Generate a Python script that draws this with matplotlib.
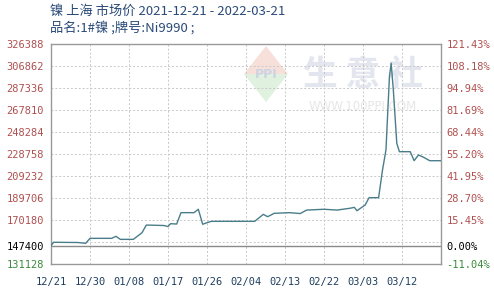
import matplotlib
matplotlib.use("Agg")
import matplotlib.pyplot as plt
from matplotlib.patches import Polygon

plt.rcParams['font.family'] = ['Noto Sans CJK SC', 'DejaVu Sans']

# ---- data (day offset from 2021-12-21, price in yuan/ton) ----
days = [0, 0.6, 6.2, 8, 9, 14, 15, 16, 19, 21, 22, 26, 27, 27.6, 29, 30, 33, 34, 35, 36, 37,
        47, 49, 50, 51.5, 55, 57.5, 59, 63, 66, 69, 70, 70.6, 72.5, 73.4, 75.6, 76.5, 77.3,
        78.1, 78.5, 79, 79.8, 80.4, 82.9, 83.8, 84.8, 86, 87.4, 90]
prices = [147400, 150400, 150200, 149500, 153900, 153900, 155700, 153000, 153000, 158900,
          165700, 165300, 164400, 166900, 166600, 176700, 176700, 179700, 166400, 167800,
          169000, 169000, 175200, 173100, 176100, 176700, 175900, 179000, 179700, 179000,
          180600, 181400, 178400, 183500, 190000, 190000, 214500, 232300, 297400, 309300,
          285600, 238200, 230800, 230800, 222800, 227900, 225800, 222800, 222800]
base_price = 147400
y_min, y_max, y_step = 131128, 326388, 19526
x_tick_days = [0, 9, 18, 27, 36, 45, 54, 63, 72, 81]
x_tick_labels = ["12/21", "12/30", "01/08", "01/17", "01/26", "02/04", "02/13", "02/22", "03/03", "03/12"]
title1 = "镍 上海 市场价 2021-12-21 - 2022-03-21"
title2 = "品名:1#镍 ;牌号:Ni9990 ;"

W, H = 494, 293
fig = plt.figure(figsize=(W / 100, H / 100), dpi=100)
L, R, T, B = 51, 441, 44, 264
ax = fig.add_axes([L / W, 1 - B / H, (R - L) / W, (B - T) / H])

ax.set_xlim(0, 90)
ax.set_ylim(y_min, y_max)

# grid
grid_vals = [y_min + k * y_step for k in range(1, 10)]
for gv in grid_vals:
    ax.axhline(gv, color='#c8c8c8', lw=0.7, ls=(0, (2, 2)), zorder=1)
for xd in x_tick_days[1:]:
    ax.axvline(xd, color='#c8c8c8', lw=0.7, ls=(0, (2, 2)), zorder=1)
ax.axhline(base_price, color='#8a8a8a', lw=1.0, zorder=2)

# watermark
ax.text(0.8, 0.86, "生 意 社", transform=ax.transAxes, ha='center', va='center',
        fontsize=25, color='#e3e6ee', zorder=0, fontweight='bold')
ax.text(0.8, 0.715, "WWW.100PPI.COM", transform=ax.transAxes, ha='center', va='center',
        fontsize=8.5, color='#e6e6e6', zorder=0, family='DejaVu Sans')
cx, cy, hw, hh = (266 - L) / (R - L), 1 - (74 - T) / (B - T), 22 / (R - L), 28 / (B - T)
ax.add_patch(Polygon([(cx - hw, cy), (cx, cy + hh), (cx + hw, cy)], closed=True,
                     transform=ax.transAxes, color='#f8e0da', zorder=0, lw=0))
ax.add_patch(Polygon([(cx - hw, cy), (cx, cy - hh), (cx + hw, cy)], closed=True,
                     transform=ax.transAxes, color='#e0f1e0', zorder=0, lw=0))
ax.text(cx, cy, "PPI", transform=ax.transAxes, ha='center', va='center', fontsize=9,
        color='#ccd4e4', zorder=0, fontweight='bold', family='DejaVu Sans')

ax.plot(days, prices, color='#4a7d8a', lw=1.0, zorder=3)

for s in ax.spines.values():
    s.set_color('#999999')
    s.set_linewidth(1.0)

# left y ticks
left_ticks = [y_min, base_price] + [y_min + k * y_step for k in range(2, 11)]
ax.set_yticks(left_ticks)
ax.set_yticklabels([f"{v:d}" for v in left_ticks], family='DejaVu Sans Mono', fontsize=7.5)
for lab, v in zip(ax.get_yticklabels(), left_ticks):
    lab.set_color('#3a8a3a' if v == y_min else ('#000000' if v == base_price else '#b05050'))
ax.tick_params(axis='y', length=0, pad=5)

ax2 = ax.twinx()
ax2.set_ylim(y_min, y_max)
ax2.set_yticks(left_ticks)
ax2.set_yticklabels([f"{(v - base_price) / base_price * 100:.2f}%" for v in left_ticks],
                    family='DejaVu Sans Mono', fontsize=7.5)
for lab, v in zip(ax2.get_yticklabels(), left_ticks):
    lab.set_color('#3a8a3a' if v == y_min else ('#000000' if v == base_price else '#b05050'))
ax2.tick_params(axis='y', length=0, pad=4)
for s in ax2.spines.values():
    s.set_visible(False)

ax.set_xticks(x_tick_days)
ax.set_xticklabels(x_tick_labels, family='DejaVu Sans Mono', fontsize=7.5, color='#1f3f5f')
ax.tick_params(axis='x', length=0, pad=9)

fig.text(50 / W, 1 - 11 / H, title1, ha='left', va='center', fontsize=9.5, color='#2a4a78')
fig.text(50 / W, 1 - 28 / H, title2, ha='left', va='center', fontsize=9.5, color='#2a4a78')

fig.savefig("out.png", dpi=100)
